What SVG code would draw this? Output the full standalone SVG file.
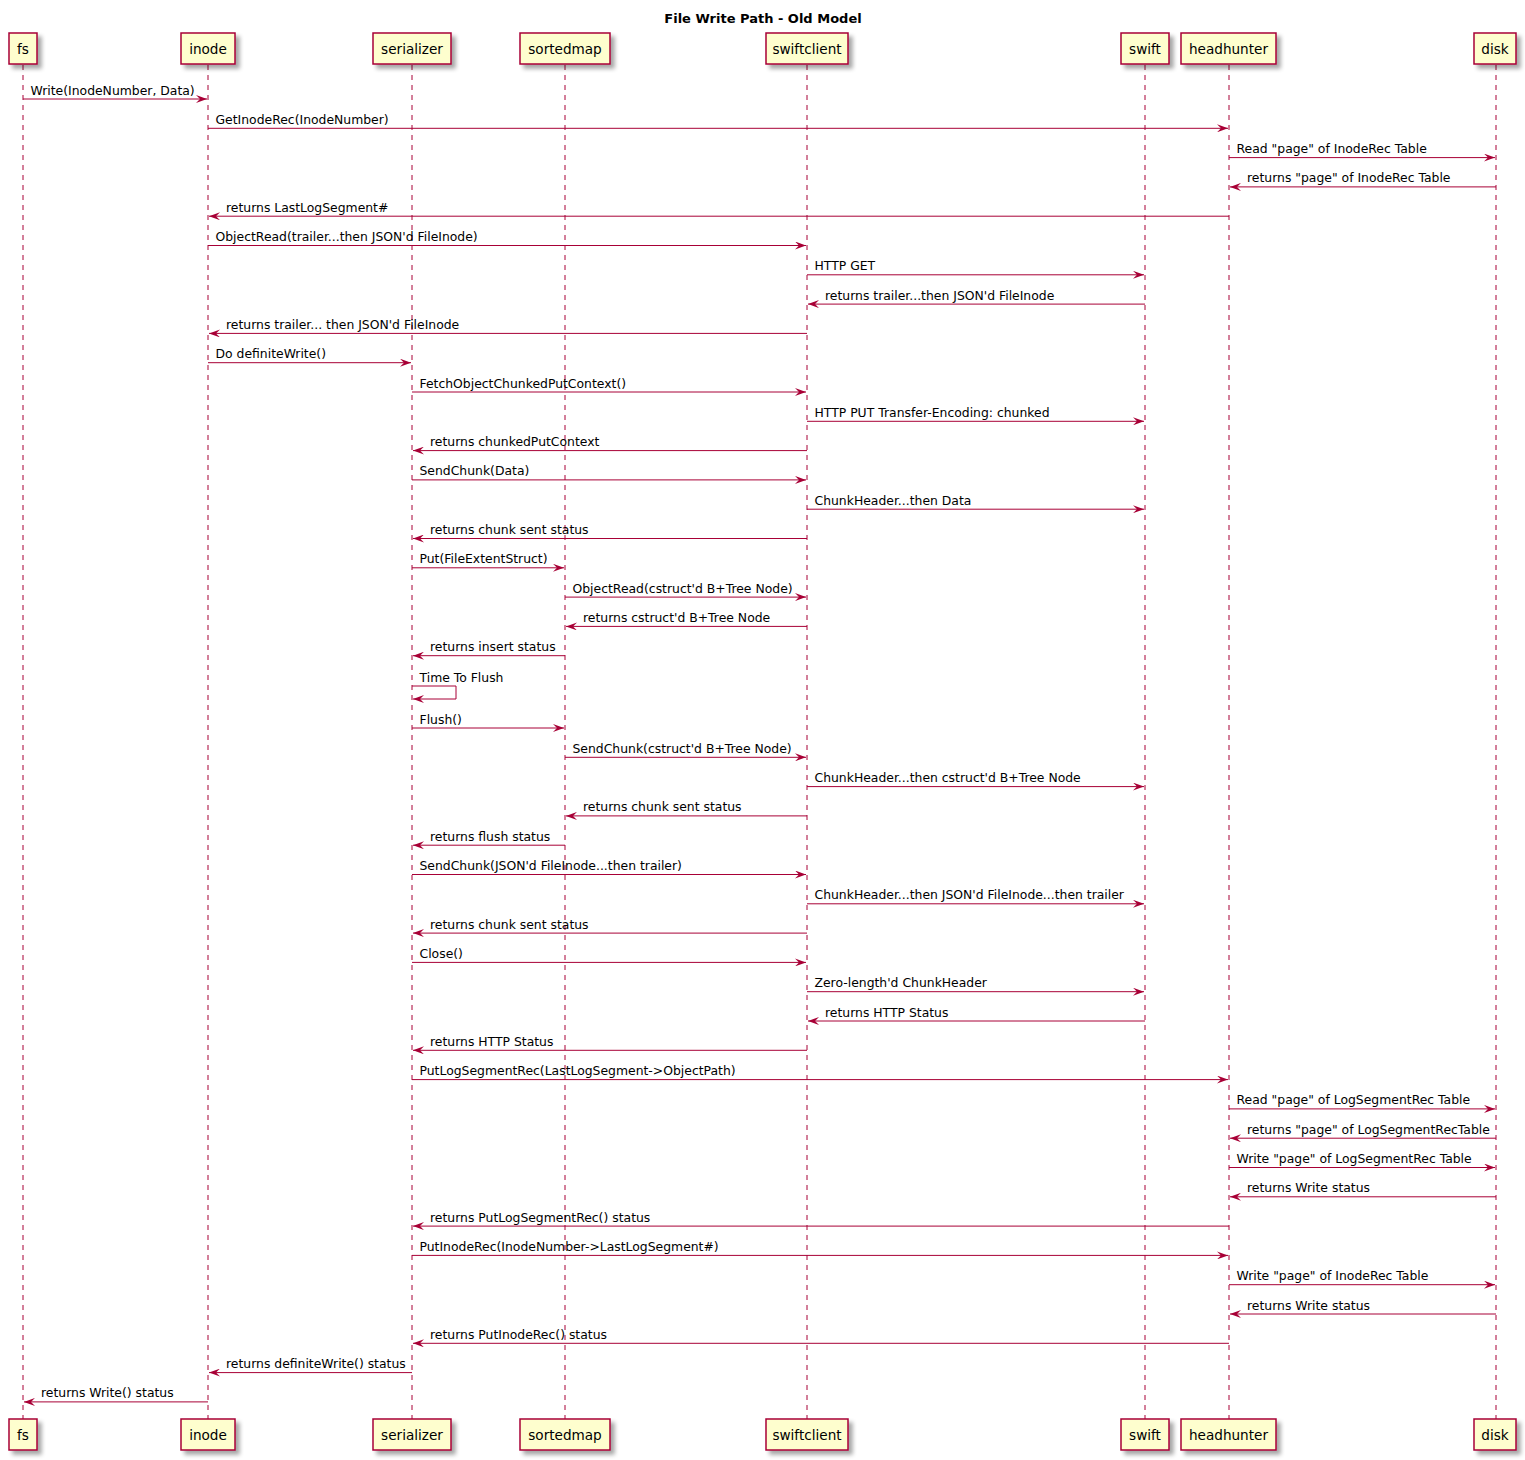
<svg xmlns="http://www.w3.org/2000/svg" width="1525" height="1460" viewBox="0 0 1525 1460">
<style>
.bx{fill:#FEFECE;stroke:#A80036;stroke-width:1.5}
.pl{font-family:"DejaVu Sans",sans-serif;font-size:13.6px;fill:#000;text-anchor:middle}
.ll{stroke:#A80036;stroke-width:1;stroke-dasharray:5,5;fill:none}
.msg{stroke:#A80036;stroke-width:1;fill:none;marker-end:url(#ah)}
.m{font-family:"DejaVu Sans",sans-serif;font-size:12.4px;fill:#000}
.title{font-family:"DejaVu Sans",sans-serif;font-size:13px;font-weight:bold;fill:#000;text-anchor:middle}
</style>
<defs>
<filter id="sh" x="-20%" y="-20%" width="160%" height="160%">
<feGaussianBlur in="SourceAlpha" stdDeviation="2"/>
<feOffset dx="4" dy="4" result="b"/>
<feComponentTransfer><feFuncA type="linear" slope="0.35"/></feComponentTransfer>
<feMerge><feMergeNode/><feMergeNode in="SourceGraphic"/></feMerge>
</filter>
<marker id="ah" markerUnits="userSpaceOnUse" viewBox="0 0 11 8" refX="11" refY="4" markerWidth="11" markerHeight="8" orient="auto">
<path d="M0,0 L11,4 L0,8 L4,4 Z" fill="#A80036"/>
</marker>
</defs>
<rect width="1525" height="1460" fill="#fff"/>
<text class="title" x="763" y="23">File Write Path - Old Model</text>

<g id="lifelines">
<line class="ll" x1="23" y1="65" x2="23" y2="1419"/>
<line class="ll" x1="208" y1="65" x2="208" y2="1419"/>
<line class="ll" x1="412" y1="65" x2="412" y2="1419"/>
<line class="ll" x1="565" y1="65" x2="565" y2="1419"/>
<line class="ll" x1="807" y1="65" x2="807" y2="1419"/>
<line class="ll" x1="1145" y1="65" x2="1145" y2="1419"/>
<line class="ll" x1="1229" y1="65" x2="1229" y2="1419"/>
<line class="ll" x1="1496" y1="65" x2="1496" y2="1419"/>
</g>

<g id="fs">
<rect class="bx" filter="url(#sh)" x="9" y="33" width="28" height="31"/>
<text class="pl" x="23" y="53.5">fs</text>
<rect class="bx" filter="url(#sh)" x="9" y="1419" width="28" height="31"/>
<text class="pl" x="23" y="1439.5">fs</text>
</g>
<g id="inode">
<rect class="bx" filter="url(#sh)" x="181" y="33" width="54" height="31"/>
<text class="pl" x="208" y="53.5">inode</text>
<rect class="bx" filter="url(#sh)" x="181" y="1419" width="54" height="31"/>
<text class="pl" x="208" y="1439.5">inode</text>
</g>
<g id="serializer">
<rect class="bx" filter="url(#sh)" x="373" y="33" width="78" height="31"/>
<text class="pl" x="412" y="53.5">serializer</text>
<rect class="bx" filter="url(#sh)" x="373" y="1419" width="78" height="31"/>
<text class="pl" x="412" y="1439.5">serializer</text>
</g>
<g id="sortedmap">
<rect class="bx" filter="url(#sh)" x="520" y="33" width="90" height="31"/>
<text class="pl" x="565" y="53.5">sortedmap</text>
<rect class="bx" filter="url(#sh)" x="520" y="1419" width="90" height="31"/>
<text class="pl" x="565" y="1439.5">sortedmap</text>
</g>
<g id="swiftclient">
<rect class="bx" filter="url(#sh)" x="766" y="33" width="82" height="31"/>
<text class="pl" x="807" y="53.5">swiftclient</text>
<rect class="bx" filter="url(#sh)" x="766" y="1419" width="82" height="31"/>
<text class="pl" x="807" y="1439.5">swiftclient</text>
</g>
<g id="swift">
<rect class="bx" filter="url(#sh)" x="1121" y="33" width="48" height="31"/>
<text class="pl" x="1145" y="53.5">swift</text>
<rect class="bx" filter="url(#sh)" x="1121" y="1419" width="48" height="31"/>
<text class="pl" x="1145" y="1439.5">swift</text>
</g>
<g id="headhunter">
<rect class="bx" filter="url(#sh)" x="1181" y="33" width="95" height="31"/>
<text class="pl" x="1228.5" y="53.5">headhunter</text>
<rect class="bx" filter="url(#sh)" x="1181" y="1419" width="95" height="31"/>
<text class="pl" x="1228.5" y="1439.5">headhunter</text>
</g>
<g id="disk">
<rect class="bx" filter="url(#sh)" x="1474" y="33" width="42" height="31"/>
<text class="pl" x="1495" y="53.5">disk</text>
<rect class="bx" filter="url(#sh)" x="1474" y="1419" width="42" height="31"/>
<text class="pl" x="1495" y="1439.5">disk</text>
</g>

<g id="connectors">
<line class="msg" x1="23" y1="99" x2="207" y2="99"/>
<line class="msg" x1="208" y1="128.3" x2="1228" y2="128.3"/>
<line class="msg" x1="1229" y1="157.6" x2="1495" y2="157.6"/>
<line class="msg" x1="1496" y1="186.9" x2="1230" y2="186.9"/>
<line class="msg" x1="1229" y1="216.2" x2="209" y2="216.2"/>
<line class="msg" x1="208" y1="245.5" x2="806" y2="245.5"/>
<line class="msg" x1="807" y1="274.8" x2="1144" y2="274.8"/>
<line class="msg" x1="1145" y1="304.1" x2="808" y2="304.1"/>
<line class="msg" x1="807" y1="333.4" x2="209" y2="333.4"/>
<line class="msg" x1="208" y1="362.7" x2="411" y2="362.7"/>
<line class="msg" x1="412" y1="392" x2="806" y2="392"/>
<line class="msg" x1="807" y1="421.3" x2="1144" y2="421.3"/>
<line class="msg" x1="807" y1="450.6" x2="413" y2="450.6"/>
<line class="msg" x1="412" y1="479.9" x2="806" y2="479.9"/>
<line class="msg" x1="807" y1="509.2" x2="1144" y2="509.2"/>
<line class="msg" x1="807" y1="538.5" x2="413" y2="538.5"/>
<line class="msg" x1="412" y1="567.8" x2="564" y2="567.8"/>
<line class="msg" x1="565" y1="597.1" x2="806" y2="597.1"/>
<line class="msg" x1="807" y1="626.4" x2="566" y2="626.4"/>
<line class="msg" x1="565" y1="655.7" x2="413" y2="655.7"/>
<path class="msg" d="M412,686 H456 V699 H413"/>
<line class="msg" x1="412" y1="728" x2="564" y2="728"/>
<line class="msg" x1="565" y1="757.3" x2="806" y2="757.3"/>
<line class="msg" x1="807" y1="786.6" x2="1144" y2="786.6"/>
<line class="msg" x1="807" y1="815.9" x2="566" y2="815.9"/>
<line class="msg" x1="565" y1="845.2" x2="413" y2="845.2"/>
<line class="msg" x1="412" y1="874.5" x2="806" y2="874.5"/>
<line class="msg" x1="807" y1="903.8" x2="1144" y2="903.8"/>
<line class="msg" x1="807" y1="933.1" x2="413" y2="933.1"/>
<line class="msg" x1="412" y1="962.4" x2="806" y2="962.4"/>
<line class="msg" x1="807" y1="991.7" x2="1144" y2="991.7"/>
<line class="msg" x1="1145" y1="1021" x2="808" y2="1021"/>
<line class="msg" x1="807" y1="1050.3" x2="413" y2="1050.3"/>
<line class="msg" x1="412" y1="1079.6" x2="1228" y2="1079.6"/>
<line class="msg" x1="1229" y1="1108.9" x2="1495" y2="1108.9"/>
<line class="msg" x1="1496" y1="1138.2" x2="1230" y2="1138.2"/>
<line class="msg" x1="1229" y1="1167.5" x2="1495" y2="1167.5"/>
<line class="msg" x1="1496" y1="1196.8" x2="1230" y2="1196.8"/>
<line class="msg" x1="1229" y1="1226.1" x2="413" y2="1226.1"/>
<line class="msg" x1="412" y1="1255.4" x2="1228" y2="1255.4"/>
<line class="msg" x1="1229" y1="1284.7" x2="1495" y2="1284.7"/>
<line class="msg" x1="1496" y1="1314" x2="1230" y2="1314"/>
<line class="msg" x1="1229" y1="1343.3" x2="413" y2="1343.3"/>
<line class="msg" x1="412" y1="1372.6" x2="209" y2="1372.6"/>
<line class="msg" x1="208" y1="1401.9" x2="24" y2="1401.9"/>
</g>

<g id="labels">
<text class="m" x="30.5" y="94.5">Write(InodeNumber, Data)</text>
<text class="m" x="215.5" y="123.8">GetInodeRec(InodeNumber)</text>
<text class="m" x="1236.5" y="153.1">Read "page" of InodeRec Table</text>
<text class="m" x="1247" y="182.4">returns "page" of InodeRec Table</text>
<text class="m" x="226" y="211.7">returns LastLogSegment#</text>
<text class="m" x="215.5" y="241">ObjectRead(trailer...then JSON'd FileInode)</text>
<text class="m" x="814.5" y="270.3">HTTP GET</text>
<text class="m" x="825" y="299.6">returns trailer...then JSON'd FileInode</text>
<text class="m" x="226" y="328.9">returns trailer... then JSON'd FileInode</text>
<text class="m" x="215.5" y="358.2">Do definiteWrite()</text>
<text class="m" x="419.5" y="387.5">FetchObjectChunkedPutContext()</text>
<text class="m" x="814.5" y="416.8">HTTP PUT Transfer-Encoding: chunked</text>
<text class="m" x="430" y="446.1">returns chunkedPutContext</text>
<text class="m" x="419.5" y="475.4">SendChunk(Data)</text>
<text class="m" x="814.5" y="504.7">ChunkHeader...then Data</text>
<text class="m" x="430" y="534">returns chunk sent status</text>
<text class="m" x="419.5" y="563.3">Put(FileExtentStruct)</text>
<text class="m" x="572.5" y="592.6">ObjectRead(cstruct'd B+Tree Node)</text>
<text class="m" x="583" y="621.9">returns cstruct'd B+Tree Node</text>
<text class="m" x="430" y="651.2">returns insert status</text>
<text class="m" x="419.5" y="681.5">Time To Flush</text>
<text class="m" x="419.5" y="723.5">Flush()</text>
<text class="m" x="572.5" y="752.8">SendChunk(cstruct'd B+Tree Node)</text>
<text class="m" x="814.5" y="782.1">ChunkHeader...then cstruct'd B+Tree Node</text>
<text class="m" x="583" y="811.4">returns chunk sent status</text>
<text class="m" x="430" y="840.7">returns flush status</text>
<text class="m" x="419.5" y="870">SendChunk(JSON'd FileInode...then trailer)</text>
<text class="m" x="814.5" y="899.3">ChunkHeader...then JSON'd FileInode...then trailer</text>
<text class="m" x="430" y="928.6">returns chunk sent status</text>
<text class="m" x="419.5" y="957.9">Close()</text>
<text class="m" x="814.5" y="987.2">Zero-length'd ChunkHeader</text>
<text class="m" x="825" y="1016.5">returns HTTP Status</text>
<text class="m" x="430" y="1045.8">returns HTTP Status</text>
<text class="m" x="419.5" y="1075.1">PutLogSegmentRec(LastLogSegment-&gt;ObjectPath)</text>
<text class="m" x="1236.5" y="1104.4">Read "page" of LogSegmentRec Table</text>
<text class="m" x="1247" y="1133.7">returns "page" of LogSegmentRecTable</text>
<text class="m" x="1236.5" y="1163">Write "page" of LogSegmentRec Table</text>
<text class="m" x="1247" y="1192.3">returns Write status</text>
<text class="m" x="430" y="1221.6">returns PutLogSegmentRec() status</text>
<text class="m" x="419.5" y="1250.9">PutInodeRec(InodeNumber-&gt;LastLogSegment#)</text>
<text class="m" x="1236.5" y="1280.2">Write "page" of InodeRec Table</text>
<text class="m" x="1247" y="1309.5">returns Write status</text>
<text class="m" x="430" y="1338.8">returns PutInodeRec() status</text>
<text class="m" x="226" y="1368.1">returns definiteWrite() status</text>
<text class="m" x="41" y="1397.4">returns Write() status</text>
</g>
</svg>
